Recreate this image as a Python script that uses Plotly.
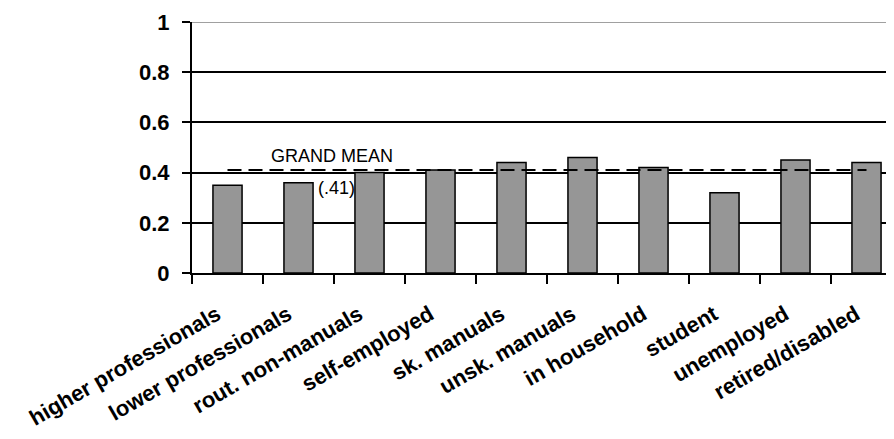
import plotly.graph_objects as go

# Anteil je Berufsgruppe
categories = ["higher professionals", "lower professionals", "rout. non-manuals",
              "self-employed", "sk. manuals", "unsk. manuals", "in household",
              "student", "unemployed", "retired/disabled"]
values = [0.35, 0.36, 0.40, 0.41, 0.44, 0.46, 0.42, 0.32, 0.45, 0.44]
grand_mean = 0.41
y_ticks = [0, 0.2, 0.4, 0.6, 0.8, 1]
y_ticktext = ["0", "0.2", "0.4", "0.6", "0.8", "1"]

font = "Liberation Sans, Arial, sans-serif"

fig = go.Figure()

fig.add_trace(go.Bar(
    x=categories,
    y=values,
    width=0.41,
    marker=dict(color="#969696", line=dict(color="black", width=1.5)),
    showlegend=False,
))

# Grand mean als gestrichelte Linie
fig.add_trace(go.Scatter(
    x=[categories[0], categories[-1]],
    y=[grand_mean, grand_mean],
    mode="lines",
    line=dict(color="black", width=2, dash="14px,7px"),
    showlegend=False,
))

fig.add_annotation(x=1.47, y=0.466, xref="x", yref="y", text="GRAND MEAN",
                   showarrow=False, font=dict(family=font, size=18, color="black"))
fig.add_annotation(x=1.54, y=0.339, xref="x", yref="y", text="(.41)",
                   showarrow=False, font=dict(family=font, size=18, color="black"))

# obere Begrenzung grau
fig.add_shape(type="line", xref="paper", yref="y", x0=0, x1=1, y0=1, y1=1,
              line=dict(color="#808080", width=1.5))

# Seite hat 8px Rand -> Plotfläche geht rechts über das Fenster hinaus
fig.update_layout(
    width=894, height=439,
    margin=dict(l=184, r=0, t=14, b=174),
    plot_bgcolor="white", paper_bgcolor="white",
    font=dict(family=font, color="black"),
)
fig.update_xaxes(
    type="category",
    range=[-0.5, 9.5],
    showline=True, linecolor="black", linewidth=2,
    ticks="outside", tickson="boundaries", ticklen=9, tickwidth=2, tickcolor="black",
    tickangle=-30,
    ticksuffix="\u00a0\u00a0",
    tickfont=dict(family=font, size=22, color="black", weight="bold"),
    ticklabelstandoff=12,
    showgrid=False,
)
fig.update_yaxes(
    range=[0, 1],
    tickvals=y_ticks, ticktext=y_ticktext,
    showline=True, linecolor="black", linewidth=2,
    ticks="outside", ticklen=8, tickwidth=2, tickcolor="black",
    tickfont=dict(family=font, size=22, color="black", weight="bold"),
    ticklabelstandoff=8,
    showgrid=True, gridcolor="black", gridwidth=1.5,
    zeroline=False,
)

fig.write_html("out.html")
